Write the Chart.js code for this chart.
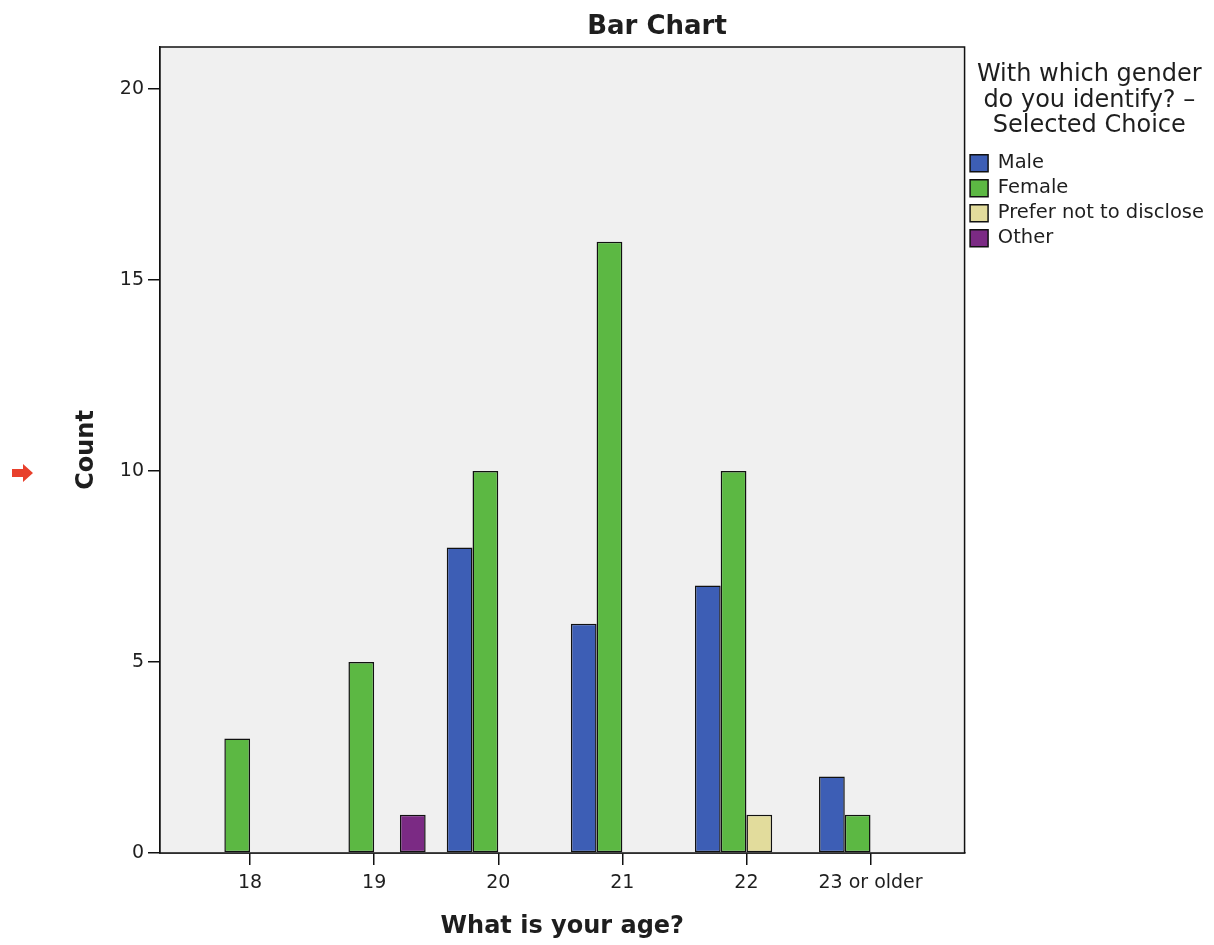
<!DOCTYPE html>
<html>
<head>
<meta charset="utf-8">
<script src="https://cdn.jsdelivr.net/npm/chart.js@4/dist/chart.umd.min.js"></script>
<style>
  html, body { margin: 0; padding: 0; background: #ffffff; }
  #wrap { width: 1214px; height: 945px; }
</style>
</head>
<body>
<div id="wrap"><canvas id="chart" width="1214" height="945"></canvas></div>
<script>
// --- DATA ---
const ageLabels = ['18', '19', '20', '21', '22', '23 or older'];
const maleCounts = [0, 0, 8, 6, 7, 2];
const femaleCounts = [3, 5, 10, 16, 10, 1];
const preferNotCounts = [0, 0, 0, 0, 1, 0];
const otherCounts = [0, 1, 0, 0, 0, 0];
const countTicks = [0, 5, 10, 15, 20];

const seriesNames = ['Male', 'Female', 'Prefer not to disclose', 'Other'];
const seriesColors = ['#3d5eb5', '#5cb843', '#e2dc9c', '#7b2a84'];
const seriesValues = [maleCounts, femaleCounts, preferNotCounts, otherCounts];

const FONT = "'DejaVu Sans', Verdana, sans-serif";
const INK = '#1e1e1e';

// x positions are category indexes on a linear scale
function toPoints(values) {
    return values.map((v, i) => ({ x: i, y: v }));
}

const datasets = seriesNames.map((name, k) => ({
    label: name,
    data: toPoints(seriesValues[k]),
    backgroundColor: seriesColors[k],
    borderColor: '#111111',
    borderWidth: 1.5,
    borderSkipped: false,
    categoryPercentage: 0.83,
    barPercentage: 1.0
}));

// grey plot area, black frame, title and the little red marker
const framePlugin = {
    id: 'frame',
    beforeDatasetsDraw(chart) {
        const a = chart.chartArea;
        const ctx = chart.ctx;
        ctx.save();
        ctx.fillStyle = '#f0f0f0';
        ctx.fillRect(a.left, a.top, a.right - a.left, a.bottom - a.top);
        ctx.restore();
    },
    afterDatasetsDraw(chart) {
        const a = chart.chartArea;
        const ctx = chart.ctx;
        ctx.save();
        ctx.strokeStyle = '#111';
        ctx.lineWidth = 1.5;
        ctx.strokeRect(a.left, a.top, a.right - a.left, a.bottom - a.top);
        ctx.restore();
    },
    afterDraw(chart) {
        const ctx = chart.ctx;
        ctx.save();
        ctx.fillStyle = INK;
        ctx.font = 'bold 26px ' + FONT;
        ctx.textAlign = 'center';
        ctx.textBaseline = 'alphabetic';
        ctx.fillText('Bar Chart', 657, 34);

        // red arrow marker on the left
        ctx.fillStyle = '#e8402c';
        ctx.beginPath();
        ctx.moveTo(12, 469);
        ctx.lineTo(23, 469);
        ctx.lineTo(23, 464);
        ctx.lineTo(33, 473);
        ctx.lineTo(23, 482);
        ctx.lineTo(23, 477);
        ctx.lineTo(12, 477);
        ctx.closePath();
        ctx.fill();
        ctx.restore();
    }
};

const ctx = document.getElementById('chart').getContext('2d');
new Chart(ctx, {
    type: 'bar',
    data: { datasets: datasets },
    options: {
        responsive: false,
        animation: false,
        devicePixelRatio: 1,
        layout: { padding: { top: 47, left: 0, right: 0, bottom: 0 } },
        plugins: {
            tooltip: { enabled: false },
            title: { display: false },
            legend: {
                position: 'right',
                align: 'start',
                title: {
                    display: true,
                    text: ['With which gender', 'do you identify? \u2013', 'Selected Choice'],
                    color: INK,
                    font: { family: FONT, size: 24, lineHeight: 1.0625 },
                    padding: { top: 16, bottom: 59.5 }
                },
                labels: {
                    color: INK,
                    font: { family: FONT, size: 19.5 },
                    boxWidth: 18,
                    boxHeight: 17,
                    padding: 5.5
                }
            }
        },
        scales: {
            x: {
                type: 'linear',
                offset: false,
                min: -0.726,
                max: 5.758,
                afterFit(scale) { scale.height = 92; },
                afterBuildTicks(scale) {
                    scale.ticks = ageLabels.map((_, i) => ({ value: i }));
                },
                grid: {
                    offset: false,
                    drawOnChartArea: false,
                    drawTicks: true,
                    tickLength: 12,
                    color: '#111',
                    lineWidth: 1.5
                },
                border: { display: true, color: '#111', width: 1.5 },
                ticks: {
                    color: INK,
                    font: { family: FONT, size: 19 },
                    padding: 7,
                    maxRotation: 0,
                    autoSkip: false,
                    callback: (value) => ageLabels[value]
                },
                title: {
                    display: true,
                    text: 'What is your age?',
                    color: INK,
                    font: { family: FONT, size: 24, weight: 'bold' },
                    padding: { top: 0, bottom: 4 }
                }
            },
            y: {
                min: 0,
                max: 21.1,
                afterFit(scale) { scale.width = 160; },
                afterBuildTicks(scale) {
                    scale.ticks = countTicks.map(v => ({ value: v }));
                },
                grid: {
                    drawOnChartArea: false,
                    drawTicks: true,
                    tickLength: 12,
                    color: '#111',
                    lineWidth: 1.5
                },
                border: { display: true, color: '#111', width: 1.5 },
                ticks: {
                    color: INK,
                    font: { family: FONT, size: 19 },
                    padding: 4
                },
                title: {
                    display: true,
                    text: 'Count',
                    color: INK,
                    font: { family: FONT, size: 24, weight: 'bold' },
                    padding: { top: 72.6, bottom: 0 }
                }
            }
        }
    },
    plugins: [framePlugin]
});
</script>
</body>
</html>
